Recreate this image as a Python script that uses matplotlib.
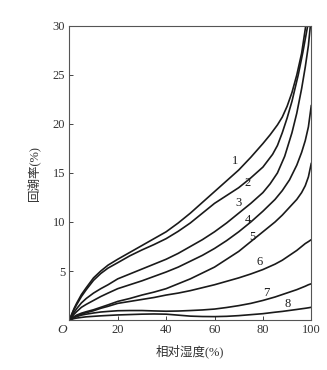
import matplotlib.pyplot as plt

# curves 1-3 leave the frame at 30 before x=100
x1 = [0, 1, 2, 3, 5, 7, 10, 13, 16, 20, 25, 30, 35, 40, 45, 50, 55, 60, 65, 70, 75, 80, 83, 86, 88, 90, 92, 94, 96, 97.7]
y1 = [0, 0.6, 1.2, 1.7, 2.6, 3.3, 4.3, 5.0, 5.6, 6.2, 6.9, 7.6, 8.3, 9.0, 9.9, 10.9, 12.0, 13.1, 14.2, 15.3, 16.6, 18.0, 18.9, 19.9, 20.7, 21.8, 23.2, 25.0, 27.2, 30]

x2 = [0, 1, 2, 3, 5, 7, 10, 13, 16, 20, 25, 30, 35, 40, 45, 50, 55, 60, 65, 70, 75, 80, 84, 86, 88, 90, 92, 94.6, 96.5, 98.5]
y2 = [0, 0.55, 1.1, 1.55, 2.4, 3.1, 4.05, 4.75, 5.3, 5.85, 6.55, 7.15, 7.7, 8.3, 9.05, 9.9, 10.9, 11.9, 12.7, 13.5, 14.5, 15.6, 16.9, 17.8, 19.1, 20.6, 22.3, 25.0, 27.3, 30]

x3 = [0, 1, 2, 3, 5, 7, 10, 13, 16, 20, 25, 30, 35, 40, 45, 50, 55, 60, 65, 70, 75, 80, 83, 86, 89, 92, 94, 96, 97.5, 98.8, 99.6]
y3 = [0, 0.4, 0.8, 1.15, 1.75, 2.2, 2.75, 3.2, 3.6, 4.2, 4.7, 5.2, 5.7, 6.2, 6.8, 7.5, 8.2, 9.0, 9.9, 10.9, 11.9, 13.0, 13.9, 15.0, 16.7, 19.1, 21.1, 23.6, 25.8, 28.0, 30]

# curves 4-8 share one humidity grid
xr = [0, 1, 2, 3, 5, 7, 10, 13, 16, 20, 25, 30, 35, 40, 45, 50, 55, 60, 65, 70, 75, 80, 85, 88, 91, 94, 96, 97.5, 98.8, 100]
y4 = [0, 0.3, 0.6, 0.85, 1.3, 1.6, 2.0, 2.4, 2.75, 3.2, 3.6, 4.0, 4.45, 4.9, 5.4, 6.0, 6.6, 7.3, 8.1, 9.0, 10.0, 11.1, 12.3, 13.2, 14.3, 15.8, 17.1, 18.3, 19.7, 21.9]
y5 = [0, 0.18, 0.35, 0.5, 0.7, 0.85, 1.05, 1.3, 1.55, 1.9, 2.2, 2.55, 2.85, 3.2, 3.7, 4.2, 4.8, 5.4, 6.2, 7.0, 8.0, 9.0, 10.0, 10.7, 11.5, 12.3, 13.0, 13.7, 14.6, 16.0]
y6 = [0, 0.15, 0.3, 0.42, 0.6, 0.75, 0.95, 1.2, 1.4, 1.7, 1.9, 2.1, 2.3, 2.55, 2.75, 3.0, 3.3, 3.6, 3.95, 4.3, 4.7, 5.15, 5.7, 6.1, 6.6, 7.1, 7.5, 7.8, 8.0, 8.2]
y7 = [0, 0.12, 0.25, 0.35, 0.5, 0.6, 0.72, 0.82, 0.88, 0.95, 0.97, 0.97, 0.93, 0.9, 0.92, 0.97, 1.03, 1.12, 1.28, 1.47, 1.7, 2.0, 2.35, 2.6, 2.85, 3.1, 3.3, 3.45, 3.6, 3.7]
y8 = [0, 0.08, 0.15, 0.2, 0.27, 0.33, 0.38, 0.43, 0.47, 0.52, 0.56, 0.6, 0.62, 0.6, 0.5, 0.4, 0.36, 0.35, 0.38, 0.45, 0.55, 0.65, 0.8, 0.88, 0.98, 1.08, 1.15, 1.2, 1.25, 1.3]

curve_names = ['1', '2', '3', '4', '5', '6', '7', '8']
label_x = [68.5, 73.6, 69.9, 73.6, 75.7, 78.5, 81.6, 90.1]
label_y = [16.2, 14.0, 11.9, 10.2, 8.5, 5.9, 2.8, 1.6]

xticks = [20, 40, 60, 80, 100]
yticks = [5, 10, 15, 20, 25, 30]

serif = ['Liberation Serif', 'DejaVu Serif']
cjk = ['Liberation Serif', 'Noto Sans CJK SC']
ink = '#1a1a1a'
grey = '#333333'

fig = plt.figure(figsize=(3.27, 3.70), dpi=100)
ax = fig.add_axes([0.212, 0.135, 0.740, 0.795])

series = [(x1, y1), (x2, y2), (x3, y3), (xr, y4), (xr, y5), (xr, y6), (xr, y7), (xr, y8)]
for xs, ys in series:
    ax.plot(xs, ys, color=ink, linewidth=1.2, solid_joinstyle='round', solid_capstyle='round')

for name, lx, ly in zip(curve_names, label_x, label_y):
    ax.text(lx, ly, name, family=serif, fontsize=9, color=ink, ha='center', va='center')

ax.set_xlim(0, 100)
ax.set_ylim(0, 30)
ax.set_xticks(xticks)
ax.set_yticks(yticks)
ax.set_xticklabels([str(v) for v in xticks], family=serif, fontsize=9, color=grey)
ax.set_yticklabels([str(v) for v in yticks], family=serif, fontsize=9, color=grey)
ax.tick_params(direction='in', length=3, width=0.7, color='#444444', pad=3)
for s in ax.spines.values():
    s.set_linewidth(0.8)
    s.set_color('#555555')

ax.annotate('O', (0, 0), xytext=(-5, -7), textcoords='offset points',
            ha='center', va='center', family=serif, style='italic', fontsize=9.5, color=grey)

ax.set_xlabel('相对湿度(%)', family=cjk, fontsize=9, color=grey, labelpad=6)
ax.set_ylabel('回潮率(%)', family=cjk, fontsize=9, color=grey, labelpad=9)

fig.savefig('out.png', dpi=100)
